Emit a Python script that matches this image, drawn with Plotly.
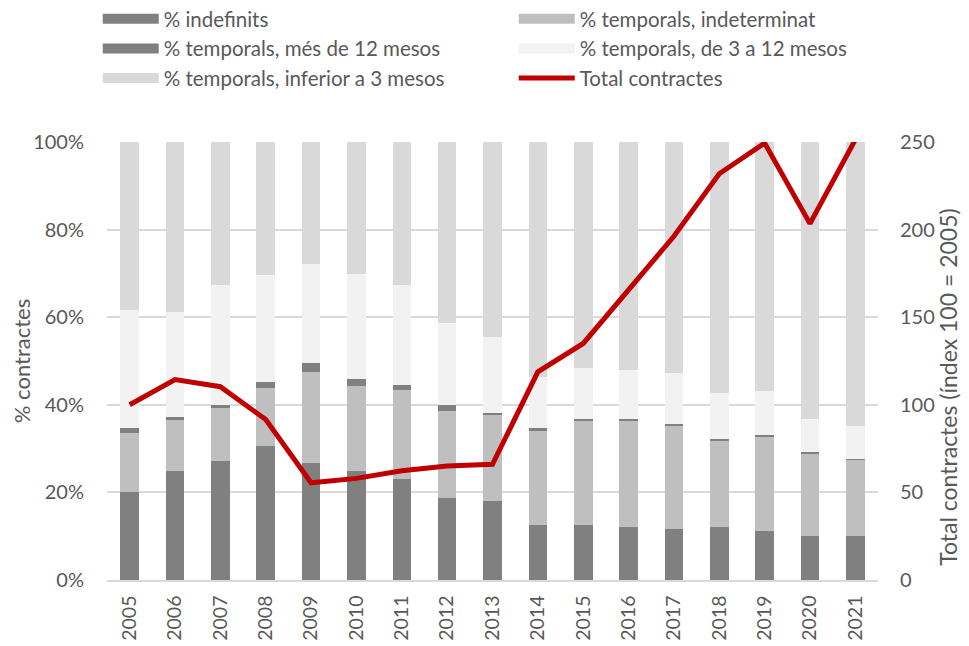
import plotly.graph_objects as go

years = [str(y) for y in range(2005, 2022)]
indefinits = [20.0, 24.9, 27.1, 30.6, 26.8, 24.9, 23.0, 18.8, 18.0, 12.5, 12.5, 12.2, 11.7, 12.2, 11.1, 10.0, 10.0]
indeterminat = [13.6, 11.6, 12.1, 13.3, 20.7, 19.4, 20.3, 19.8, 19.6, 21.7, 24.0, 24.2, 23.6, 19.6, 21.6, 18.9, 17.4]
mes12 = [1.0, 0.7, 0.7, 1.3, 2.0, 1.5, 1.2, 1.3, 0.5, 0.4, 0.3, 0.3, 0.3, 0.3, 0.3, 0.3, 0.3]
de3a12 = [27.0, 24.0, 27.5, 24.5, 22.6, 24.1, 22.9, 18.7, 17.3, 11.8, 11.6, 11.2, 11.7, 10.7, 10.2, 7.5, 7.4]
inf3 = [round(100 - a - b - c - d, 1) for a, b, c, d in zip(indefinits, indeterminat, mes12, de3a12)]
total = [100, 114.4, 110.3, 91.6, 55.5, 58.0, 62.4, 65.0, 66.0, 118.8, 135.0, 165.5, 196.2, 231.9, 249.4, 203.4, 251.3]

names = ["% indefinits", "% temporals, indeterminat", "% temporals, més de 12 mesos",
         "% temporals, de 3 a 12 mesos", "% temporals, inferior a 3 mesos"]
colors = ["#808080", "#BFBFBF", "#808080", "#F2F2F2", "#D9D9D9"]
series = [indefinits, indeterminat, mes12, de3a12, inf3]
right_title = "Total contractes (índex 100 = 2005)"

FONT = "Lato"
TXT = "#595959"

fig = go.Figure()
for n, c, s in zip(names, colors, series):
    fig.add_trace(go.Bar(x=years, y=s, name=n, legendgroup=n, showlegend=False,
                         marker=dict(color=c, line=dict(width=0))))
# legend entries with wide rectangular swatches (as in the original)
for n, c in zip(names, colors):
    fig.add_trace(go.Scatter(x=[None], y=[None], name=n, legendgroup=n, mode="lines",
                             line=dict(color=c, width=14), hoverinfo="skip"))
fig.add_trace(go.Scatter(x=years, y=total, name="Total contractes", yaxis="y2", mode="lines",
                         line=dict(color="#C00000", width=5)))

# page body has an 8px margin: figure is drawn 8px right/down of the window origin
fig.update_layout(
    width=961, height=638,
    barmode="stack", bargap=0.59,
    plot_bgcolor="white", paper_bgcolor="white",
    font=dict(family=FONT, size=20, color=TXT),
    margin=dict(l=99, r=91, t=134, b=66, autoexpand=False),
    showlegend=True,
    legend=dict(orientation="h", xref="paper", yref="paper", x=-0.012, y=1.3266,
                xanchor="left", yanchor="top", entrywidth=345, entrywidthmode="pixels",
                font=dict(size=20.5, color=TXT), traceorder="normal", itemwidth=56,
                tracegroupgap=0, bgcolor="rgba(0,0,0,0)"),
    xaxis=dict(type="category", tickangle=-90, showgrid=False, showline=True, linecolor="#D9D9D9",
               linewidth=1.5, ticks="", ticklabelstandoff=6, tickfont=dict(size=19.5)),
    yaxis=dict(range=[0, 100], dtick=20, ticksuffix="%", showgrid=True, gridcolor="#D9D9D9",
               gridwidth=1.5, zeroline=False, ticks="", ticklabelstandoff=22,
               title=dict(text="% contractes", standoff=12, font=dict(size=22))),
    yaxis2=dict(range=[0, 250], dtick=50, overlaying="y", side="right", showgrid=False,
                zeroline=False, ticks="", ticklabelstandoff=21),
    annotations=[dict(text=right_title, textangle=-90, xref="paper", yref="paper",
                      x=1.0915, y=0.44, xanchor="center", yanchor="middle", showarrow=False,
                      font=dict(size=23, color=TXT))],
)

fig.write_html("out.html")
